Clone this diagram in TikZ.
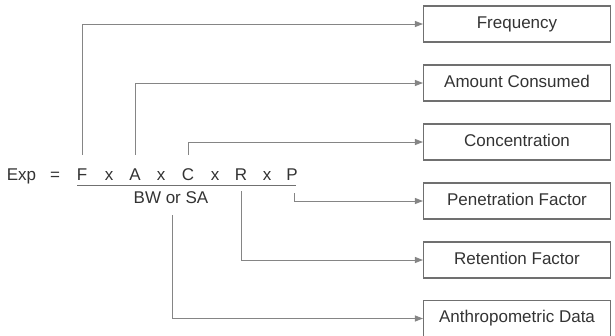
\documentclass[tikz,border=0pt]{standalone}
\usepackage{fontspec}
\setmainfont{Liberation Sans}
\usetikzlibrary{arrows.meta}
\definecolor{linec}{HTML}{858585}
\definecolor{boxc}{HTML}{707070}
\definecolor{textc}{HTML}{333333}
\tikzset{
  txt/.style={font=\fontsize{17}{20}\selectfont, text=textc},
  letter/.style={txt, inner sep=0pt, text height=12.2pt, text depth=0pt, anchor=base},
  box/.style={txt, draw=boxc, line width=1.1pt, minimum width=187pt, minimum height=36pt,
    text height=12.2pt, text depth=3.6pt, inner sep=0pt},
  conn/.style={draw=linec, line width=0.9pt, -{Triangle[length=8pt,width=6pt]}}
}
\begin{document}
\begin{tikzpicture}[x=1pt,y=-1pt]
\useasboundingbox (0,0) rectangle (615,335);
% boxes
\node[box] (freq) at (517,24) {Frequency};
\node[box] (amt)  at (517,83) {Amount Consumed};
\node[box] (conc) at (517,142) {Concentration};
\node[box] (pen)  at (517,201) {Penetration Factor};
\node[box] (ret)  at (517,260) {Retention Factor};
\node[box] (anth) at (517,318.5) {Anthropometric Data};
% formula
\node[letter] (exp) at (21.5,180) {Exp};
\node[letter] (eq)  at (55,180) {=};
\node[letter] (F)   at (82,180) {F};
\node[letter] (x1)  at (109,180) {x};
\node[letter] (A)   at (135,180) {A};
\node[letter] (x2)  at (161,180) {x};
\node[letter] (C)   at (188,180) {C};
\node[letter] (x3)  at (215,180) {x};
\node[letter] (R)   at (241,180) {R};
\node[letter] (x4)  at (267,180) {x};
\node[letter] (P)   at (292,180) {P};
\node[letter] (den) at (171,203) {BW or SA};
% fraction bar
\draw[draw=boxc, line width=1.4pt] (77,185.5) -- (296,185.5);
% connectors
\draw[conn] ([yshift=13pt]F.north) |- (freq.west);
\draw[conn] ([yshift=13pt]A.north) |- (amt.west);
\draw[conn] ([yshift=13pt]C.north) |- (conc.west);
\draw[conn] ([xshift=2pt,yshift=-13pt]P.south) |- (pen.west);
\draw[conn] ([yshift=-11pt]R.south) |- (ret.west);
\draw[conn] ([xshift=1pt,yshift=-12pt]den.south) |- (anth.west);
\end{tikzpicture}
\end{document}
